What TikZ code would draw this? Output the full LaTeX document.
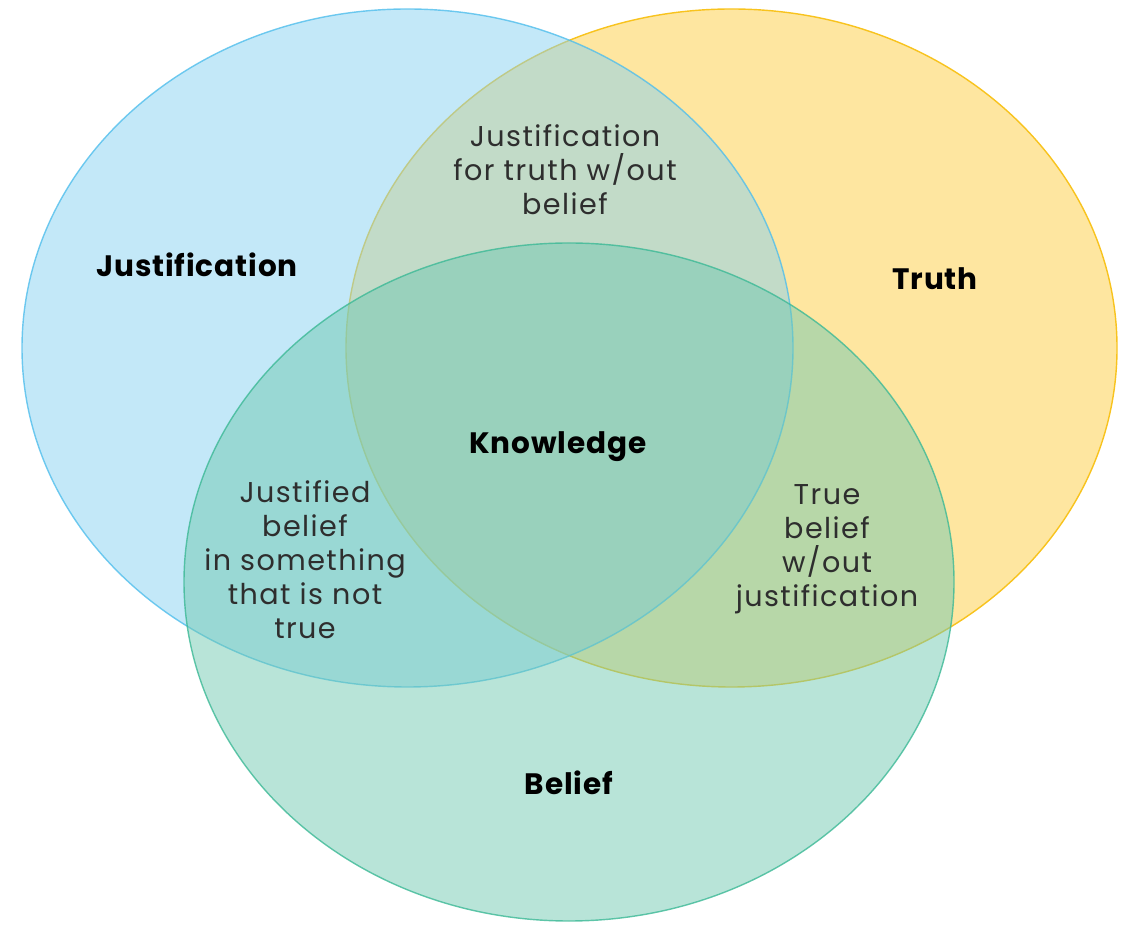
\documentclass[tikz,border=0pt]{standalone}
\usepackage{fontspec}
\setmainfont{Poppins}
\usepackage{xcolor}
\usetikzlibrary{positioning}

\definecolor{truthfill}{RGB}{254,230,160}
\definecolor{truthline}{RGB}{248,195,30}
\definecolor{justfill}{RGB}{135,209,241}
\definecolor{justline}{RGB}{80,190,236}
\definecolor{belfill}{RGB}{113,201,177}
\definecolor{belline}{RGB}{60,185,150}

\tikzset{set/.style={line width=0.8pt},
    lab/.style={font=\fontsize{16.8}{19}\selectfont\bfseries\addfontfeatures{LetterSpace=3},text=black},
    txt/.style={align=center,text=black!82,font=\fontsize{16.3}{19.4}\selectfont\addfontfeatures{LetterSpace=5}}}

\begin{document}
\begin{tikzpicture}
        \useasboundingbox (0,0) rectangle (22.5,18.48);

        % the three sets
        \fill[truthfill] (14.63,11.52) ellipse [x radius=7.71, y radius=6.78];
        \draw[set,truthline] (14.63,11.52) ellipse [x radius=7.71, y radius=6.78];
        \fill[justfill,fill opacity=0.5] (8.15,11.52) ellipse [x radius=7.71, y radius=6.78];
        \draw[set,justline,draw opacity=0.8] (8.15,11.52) ellipse [x radius=7.71, y radius=6.78];
        \fill[belfill,fill opacity=0.5] (11.38,6.84) ellipse [x radius=7.70, y radius=6.78];
        \draw[set,belline,draw opacity=0.8] (11.38,6.84) ellipse [x radius=7.70, y radius=6.78];

        \node[lab] (just) at (3.94,13.18) {Justification};
        \node[lab] (truth) at (18.70,12.90) {Truth};
        \node[lab] (know) at (11.16,9.54) {Knowledge};
        \node[lab] (bel) at (11.38,2.82) {Belief};

        \node[txt] (jt) at (11.30,15.08) {Justification\\for truth w/out\\belief};
        \node[txt] (jb) at (6.10,7.28) {Justified\\belief\\in something\\that is not\\true};
        \node[txt] (tb) at (16.54,7.50) {True\\belief\\w/out\\justification};
    \end{tikzpicture}
\end{document}
